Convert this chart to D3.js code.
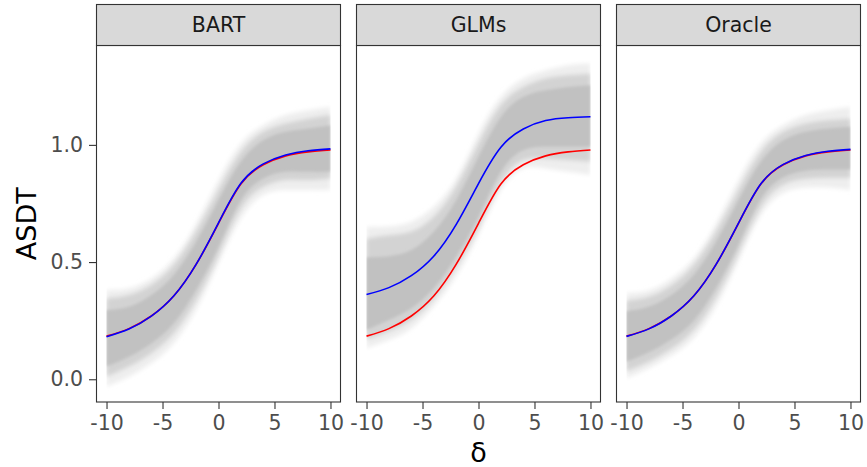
<!DOCTYPE html>
<html>
<head>
<meta charset="utf-8">
<script src="https://cdn.jsdelivr.net/npm/d3@7"></script>
<style>
  html, body { margin: 0; padding: 0; background: #ffffff; }
  svg { display: block; font-family: "DejaVu Sans", sans-serif; }
</style>
</head>
<body>
<svg id="chart" width="867" height="467"></svg>
<script>
// ---------------- data ----------------
const methods = ["BART", "GLMs", "Oracle"];
const delta = [-10, -8, -6, -4, -2, 0, 2, 4, 6, 8, 10];
const xTicks = [-10, -5, 0, 5, 10];
const xTickLabels = ["-10", "-5", "0", "5", "10"];
const yTicks = [0, 0.5, 1.0];
const yTickLabels = ["0.0", "0.5", "1.0"];

// true ASDT curve (red)
const truthASDT = [0.184, 0.216, 0.270, 0.355, 0.490, 0.665, 0.833, 0.915, 0.953, 0.970, 0.978];

// mean of estimates (blue)
const bartMean   = [0.181, 0.214, 0.269, 0.355, 0.490, 0.667, 0.836, 0.919, 0.957, 0.975, 0.983];
const glmMean    = [0.362, 0.391, 0.442, 0.525, 0.660, 0.835, 0.990, 1.068, 1.104, 1.116, 1.120];
const oracleMean = [0.183, 0.215, 0.270, 0.355, 0.490, 0.666, 0.834, 0.917, 0.955, 0.973, 0.981];

// spread of the replicate curves (grey): outer envelope, middle band, dense core
const bartOuterHi = [0.381, 0.388, 0.430, 0.516, 0.665, 0.850, 1.006, 1.084, 1.127, 1.148, 1.162];
const bartMidHi   = [0.345, 0.359, 0.402, 0.487, 0.630, 0.807, 0.970, 1.056, 1.091, 1.112, 1.127];
const bartCoreHi  = [0.295, 0.309, 0.359, 0.445, 0.587, 0.764, 0.928, 1.020, 1.056, 1.070, 1.084];
const bartCoreLo  = [0.054, 0.096, 0.153, 0.239, 0.381, 0.565, 0.764, 0.857, 0.885, 0.885, 0.885];
const bartMidLo   = [0.011, 0.054, 0.111, 0.196, 0.338, 0.530, 0.729, 0.821, 0.850, 0.850, 0.857];
const bartOuterLo = [-0.031, 0.011, 0.068, 0.153, 0.295, 0.494, 0.686, 0.786, 0.807, 0.807, 0.807];

const glmOuterHi = [0.650, 0.652, 0.672, 0.736, 0.857, 1.049, 1.205, 1.283, 1.318, 1.340, 1.347];
const glmMidHi   = [0.600, 0.614, 0.630, 0.693, 0.821, 1.006, 1.169, 1.247, 1.283, 1.297, 1.304];
const glmCoreHi  = [0.520, 0.525, 0.551, 0.629, 0.764, 0.949, 1.119, 1.205, 1.233, 1.247, 1.254];
const glmCoreLo  = [0.210, 0.253, 0.303, 0.388, 0.523, 0.693, 0.885, 0.977, 0.992, 0.992, 0.992];
const glmMidLo   = [0.170, 0.204, 0.253, 0.345, 0.480, 0.650, 0.842, 0.935, 0.942, 0.935, 0.928];
const glmOuterLo = [0.132, 0.168, 0.217, 0.310, 0.438, 0.615, 0.807, 0.899, 0.899, 0.885, 0.871];

const oracleOuterHi = [0.367, 0.380, 0.430, 0.516, 0.665, 0.850, 1.006, 1.084, 1.127, 1.148, 1.162];
const oracleMidHi   = [0.335, 0.352, 0.400, 0.487, 0.630, 0.807, 0.970, 1.056, 1.091, 1.105, 1.112];
const oracleCoreHi  = [0.290, 0.310, 0.360, 0.445, 0.587, 0.764, 0.928, 1.020, 1.056, 1.070, 1.077];
const oracleCoreLo  = [0.075, 0.115, 0.170, 0.250, 0.390, 0.575, 0.770, 0.862, 0.890, 0.895, 0.895];
const oracleMidLo   = [0.035, 0.075, 0.130, 0.210, 0.350, 0.540, 0.735, 0.830, 0.855, 0.860, 0.860];
const oracleOuterLo = [0.004, 0.047, 0.100, 0.175, 0.310, 0.505, 0.700, 0.795, 0.818, 0.818, 0.807];

const panelData = [
  { name: "BART", mean: bartMean, oh: bartOuterHi, mh: bartMidHi, ch: bartCoreHi, cl: bartCoreLo, ml: bartMidLo, ol: bartOuterLo },
  { name: "GLMs", mean: glmMean, oh: glmOuterHi, mh: glmMidHi, ch: glmCoreHi, cl: glmCoreLo, ml: glmMidLo, ol: glmOuterLo },
  { name: "Oracle", mean: oracleMean, oh: oracleOuterHi, mh: oracleMidHi, ch: oracleCoreHi, cl: oracleCoreLo, ml: oracleMidLo, ol: oracleOuterLo }
];

// ---------------- layout ----------------
const svg = d3.select("#chart");
const plotTop = 45.5, plotBottom = 402, stripTop = 4.5;
const facet = d3.scaleBand().domain(methods).range([96, 861]).paddingInner(15 / 260).paddingOuter(0);
const y = d3.scaleLinear().domain([-0.097, 1.424]).range([plotBottom, plotTop]);

const defs = svg.append("defs");
function blur(id, s) {
  defs.append("filter").attr("id", id).attr("x", "-10%").attr("y", "-10%").attr("width", "120%").attr("height", "120%")
    .append("feGaussianBlur").attr("stdDeviation", s);
}
blur("blurOuter", 2.2);
blur("blurMid", 2.0);
blur("blurCore", 1.8);

const tickCol = "#333333", labCol = "#4D4D4D";

panelData.forEach((p, i) => {
  const x0 = facet(p.name), bw = facet.bandwidth();
  const x = d3.scaleLinear().domain([-10.94, 10.94]).range([x0, x0 + bw]);
  const g = svg.append("g");

  const clipId = "clip" + i;
  defs.append("clipPath").attr("id", clipId).append("rect")
    .attr("x", x(-10)).attr("y", plotTop).attr("width", x(10) - x(-10)).attr("height", plotBottom - plotTop);

  const rows = delta.map((d, k) => ({
    d, oh: p.oh[k], mh: p.mh[k], ch: p.ch[k], cl: p.cl[k], ml: p.ml[k], ol: p.ol[k],
    m: p.mean[k], t: truthASDT[k]
  }));

  const curve = d3.curveNatural;
  const band = (lo, hi) => d3.area().curve(curve).x(r => x(r.d)).y0(r => y(r[lo])).y1(r => y(r[hi]));

  const bg = g.append("g").attr("clip-path", `url(#${clipId})`);
  bg.append("path").datum(rows).attr("d", band("ol", "oh")).attr("fill", "#EEEEEE").attr("filter", "url(#blurOuter)");
  bg.append("path").datum(rows).attr("d", band("ml", "mh")).attr("fill", "#D3D3D3").attr("filter", "url(#blurMid)");
  bg.append("path").datum(rows).attr("d", band("cl", "ch")).attr("fill", "#C1C1C1").attr("filter", "url(#blurCore)");

  const lineT = d3.line().curve(curve).x(r => x(r.d)).y(r => y(r.t));
  const lineM = d3.line().curve(curve).x(r => x(r.d)).y(r => y(r.m));
  g.append("path").datum(rows).attr("d", lineT).attr("fill", "none").attr("stroke", "#FF0000").attr("stroke-width", 1.6);
  g.append("path").datum(rows).attr("d", lineM).attr("fill", "none").attr("stroke", "#0000FF").attr("stroke-width", 1.6);

  // panel border
  g.append("rect").attr("x", x0 + 0.5).attr("y", plotTop).attr("width", bw - 1).attr("height", plotBottom - plotTop)
    .attr("fill", "none").attr("stroke", tickCol).attr("stroke-width", 1.1);

  // strip
  g.append("rect").attr("x", x0 + 0.5).attr("y", stripTop).attr("width", bw - 1).attr("height", plotTop - stripTop)
    .attr("fill", "#D9D9D9").attr("stroke", tickCol).attr("stroke-width", 1.1);
  g.append("text").attr("x", x0 + bw / 2).attr("y", 25).attr("dy", "0.36em").attr("text-anchor", "middle")
    .attr("font-size", 20.5).attr("fill", "#1A1A1A").text(p.name);

  // x axis
  const xAxis = d3.axisBottom(x).tickValues(xTicks).tickSize(7).tickPadding(6)
    .tickFormat((d, k) => xTickLabels[k]);
  const xa = g.append("g").attr("transform", `translate(0,${plotBottom})`).call(xAxis);
  xa.select(".domain").remove();
  xa.selectAll(".tick line").attr("stroke", tickCol).attr("stroke-width", 1.1);
  xa.selectAll(".tick text").attr("fill", labCol).attr("font-size", 20.5).attr("font-family", "DejaVu Sans");

  if (i === 0) {
    const yAxis = d3.axisLeft(y).tickValues(yTicks).tickSize(7).tickPadding(6)
      .tickFormat((d, k) => yTickLabels[k]);
    const ya = g.append("g").attr("transform", `translate(${x0},0)`).call(yAxis);
    ya.select(".domain").remove();
    ya.selectAll(".tick line").attr("stroke", tickCol).attr("stroke-width", 1.1);
    ya.selectAll(".tick text").attr("fill", labCol).attr("font-size", 20.5).attr("font-family", "DejaVu Sans");
  }
});

// axis titles
svg.append("text").attr("transform", `translate(36,${(plotTop + plotBottom) / 2}) rotate(-90)`)
  .attr("text-anchor", "middle").attr("font-size", 27).attr("fill", "#000").text("ASDT");
svg.append("text").attr("x", (96 + 861) / 2).attr("y", 462).attr("text-anchor", "middle")
  .attr("font-size", 27).attr("fill", "#000").text("δ");
</script>
</body>
</html>
